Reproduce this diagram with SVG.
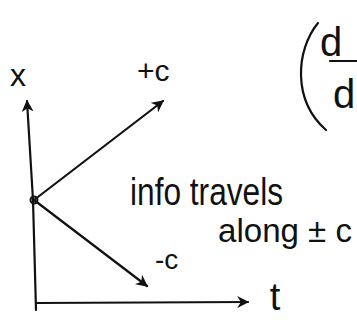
<svg xmlns="http://www.w3.org/2000/svg" width="357" height="320" viewBox="0 0 357 320">
<style>
.ln{stroke:#111;stroke-width:2.2;fill:none;stroke-linecap:round}
.tx{font-family:"Liberation Sans",Arial,sans-serif;fill:#111}
</style>
<defs>
<marker id="ah2" viewBox="0 0 10 10" refX="9" refY="5" markerWidth="12" markerHeight="12" orient="auto" markerUnits="userSpaceOnUse">
<path d="M0,0 L10,5 L0,10 L3,5 z" fill="#111"/>
</marker>
</defs>
<rect width="357" height="320" fill="#fff"/>
<g id="connectors">
<path class="ln" d="M36,310 L33,200 L27,101" marker-end="url(#ah2)"/>
<path class="ln" d="M36,303 L248,302" marker-end="url(#ah2)"/>
<path class="ln" d="M34,200 L163,101" marker-end="url(#ah2)"/>
<path class="ln" d="M34,200 L147,286" marker-end="url(#ah2)"/>
</g>
<g id="origin">
<circle cx="34" cy="200" r="3.5" fill="none" stroke="#111" stroke-width="2"/>
</g>
<g id="label-x"><text class="tx" x="18" y="86" font-size="32" text-anchor="middle">x</text></g>
<g id="label-plus-c"><text class="tx" x="137" y="81" font-size="30">+c</text></g>
<g id="label-minus-c"><text class="tx" x="155" y="269" font-size="28">-c</text></g>
<g id="label-t"><text class="tx" x="275" y="310" font-size="38" text-anchor="middle">t</text></g>
<g id="note">
<text class="tx" x="130" y="205" font-size="38" textLength="153" lengthAdjust="spacingAndGlyphs">info travels</text>
<text class="tx" x="218" y="242" font-size="34" textLength="134" lengthAdjust="spacingAndGlyphs">along ± c</text>
</g>
<g id="derivative">
<path class="ln" d="M318,23 C296,50 292,100 326,130"/>
<text class="tx" x="320" y="56" font-size="40">d</text>
<path class="ln" d="M330,61 L357,61" stroke-width="1.5"/>
<text class="tx" x="333" y="108" font-size="40">d</text>
</g>
</svg>
